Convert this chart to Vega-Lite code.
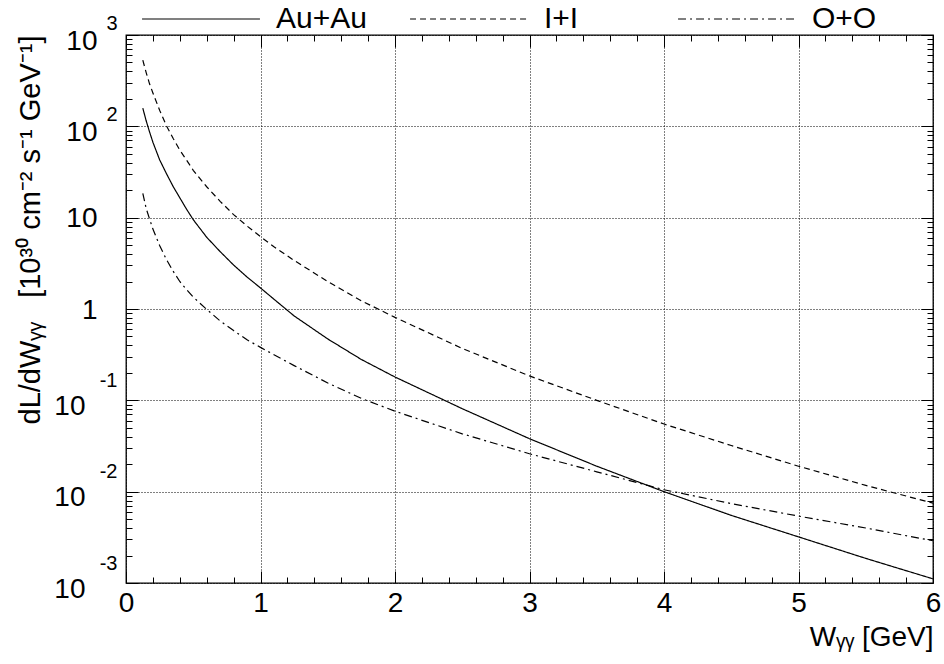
{
  "$schema": "https://vega.github.io/schema/vega-lite/v6.json",
  "width": 807,
  "height": 548,
  "autosize": {"type": "none"},
  "padding": {"left": 126, "top": 35, "right": 11, "bottom": 81},
  "background": "white",
  "config": {
    "view": {"stroke": "black", "strokeWidth": 1.3},
    "font": "Liberation Sans, Arial, sans-serif",
    "axis": {
      "labelFont": "Liberation Sans, Arial, sans-serif",
      "titleFont": "Liberation Sans, Arial, sans-serif",
      "labelColor": "black",
      "titleColor": "black",
      "titleFontWeight": "normal",
      "labelFontSize": 28,
      "titleFontSize": 28,
      "domain": false,
      "tickColor": "black",
      "tickWidth": 1
    },
    "legend": {
      "labelFont": "Liberation Sans, Arial, sans-serif",
      "labelColor": "black"
    }
  },
  "data": {
    "values": [
      {"series": "Au+Au", "W": 0.125, "L": 158},
      {"series": "Au+Au", "W": 0.15, "L": 115},
      {"series": "Au+Au", "W": 0.175, "L": 87},
      {"series": "Au+Au", "W": 0.2, "L": 67},
      {"series": "Au+Au", "W": 0.25, "L": 43},
      {"series": "Au+Au", "W": 0.3, "L": 30.5},
      {"series": "Au+Au", "W": 0.35, "L": 22},
      {"series": "Au+Au", "W": 0.4, "L": 16.5},
      {"series": "Au+Au", "W": 0.45, "L": 12.4},
      {"series": "Au+Au", "W": 0.5, "L": 9.5},
      {"series": "Au+Au", "W": 0.6, "L": 6.1},
      {"series": "Au+Au", "W": 0.7, "L": 4.25},
      {"series": "Au+Au", "W": 0.8, "L": 3.03},
      {"series": "Au+Au", "W": 0.9, "L": 2.24},
      {"series": "Au+Au", "W": 1.0, "L": 1.7},
      {"series": "Au+Au", "W": 1.1, "L": 1.28},
      {"series": "Au+Au", "W": 1.25, "L": 0.84},
      {"series": "Au+Au", "W": 1.5, "L": 0.47},
      {"series": "Au+Au", "W": 1.75, "L": 0.28},
      {"series": "Au+Au", "W": 2.0, "L": 0.18},
      {"series": "Au+Au", "W": 2.5, "L": 0.081},
      {"series": "Au+Au", "W": 3.0, "L": 0.038},
      {"series": "Au+Au", "W": 3.5, "L": 0.019},
      {"series": "Au+Au", "W": 4.0, "L": 0.0100},
      {"series": "Au+Au", "W": 4.5, "L": 0.0055},
      {"series": "Au+Au", "W": 5.0, "L": 0.0032},
      {"series": "Au+Au", "W": 5.5, "L": 0.00186},
      {"series": "Au+Au", "W": 6.0, "L": 0.00111},
      {"series": "I+I", "W": 0.125, "L": 530},
      {"series": "I+I", "W": 0.15, "L": 388},
      {"series": "I+I", "W": 0.175, "L": 292},
      {"series": "I+I", "W": 0.2, "L": 232},
      {"series": "I+I", "W": 0.25, "L": 150},
      {"series": "I+I", "W": 0.3, "L": 102},
      {"series": "I+I", "W": 0.35, "L": 74},
      {"series": "I+I", "W": 0.4, "L": 55},
      {"series": "I+I", "W": 0.45, "L": 42.7},
      {"series": "I+I", "W": 0.5, "L": 33},
      {"series": "I+I", "W": 0.6, "L": 21.8},
      {"series": "I+I", "W": 0.7, "L": 15.1},
      {"series": "I+I", "W": 0.8, "L": 10.8},
      {"series": "I+I", "W": 0.9, "L": 8.1},
      {"series": "I+I", "W": 1.0, "L": 6.2},
      {"series": "I+I", "W": 1.1, "L": 4.8},
      {"series": "I+I", "W": 1.25, "L": 3.4},
      {"series": "I+I", "W": 1.5, "L": 2.0},
      {"series": "I+I", "W": 1.75, "L": 1.23},
      {"series": "I+I", "W": 2.0, "L": 0.81},
      {"series": "I+I", "W": 2.5, "L": 0.37},
      {"series": "I+I", "W": 3.0, "L": 0.185},
      {"series": "I+I", "W": 3.5, "L": 0.100},
      {"series": "I+I", "W": 4.0, "L": 0.055},
      {"series": "I+I", "W": 4.5, "L": 0.032},
      {"series": "I+I", "W": 5.0, "L": 0.019},
      {"series": "I+I", "W": 5.5, "L": 0.0117},
      {"series": "I+I", "W": 6.0, "L": 0.0075},
      {"series": "O+O", "W": 0.125, "L": 18.5},
      {"series": "O+O", "W": 0.15, "L": 12.6},
      {"series": "O+O", "W": 0.175, "L": 9.7},
      {"series": "O+O", "W": 0.2, "L": 7.5},
      {"series": "O+O", "W": 0.25, "L": 4.95},
      {"series": "O+O", "W": 0.3, "L": 3.5},
      {"series": "O+O", "W": 0.35, "L": 2.6},
      {"series": "O+O", "W": 0.4, "L": 2.0},
      {"series": "O+O", "W": 0.45, "L": 1.63},
      {"series": "O+O", "W": 0.5, "L": 1.35},
      {"series": "O+O", "W": 0.6, "L": 0.99},
      {"series": "O+O", "W": 0.7, "L": 0.74},
      {"series": "O+O", "W": 0.8, "L": 0.58},
      {"series": "O+O", "W": 0.9, "L": 0.46},
      {"series": "O+O", "W": 1.0, "L": 0.38},
      {"series": "O+O", "W": 1.1, "L": 0.316},
      {"series": "O+O", "W": 1.25, "L": 0.24},
      {"series": "O+O", "W": 1.5, "L": 0.155},
      {"series": "O+O", "W": 1.75, "L": 0.105},
      {"series": "O+O", "W": 2.0, "L": 0.076},
      {"series": "O+O", "W": 2.5, "L": 0.043},
      {"series": "O+O", "W": 3.0, "L": 0.026},
      {"series": "O+O", "W": 3.5, "L": 0.0165},
      {"series": "O+O", "W": 4.0, "L": 0.0105},
      {"series": "O+O", "W": 4.5, "L": 0.0074},
      {"series": "O+O", "W": 5.0, "L": 0.0054},
      {"series": "O+O", "W": 5.5, "L": 0.0040},
      {"series": "O+O", "W": 6.0, "L": 0.0029}
    ]
  },
  "layer": [
    {
      "mark": {"type": "line", "color": "black", "strokeWidth": 1.2, "clip": true},
      "encoding": {
        "x": {
          "field": "W", "type": "quantitative",
          "scale": {"domain": [0, 6], "nice": false, "zero": false},
          "axis": {
            "orient": "bottom",
            "values": [0, 1, 2, 3, 4, 5, 6],
            "format": "d",
            "ticks": false,
            "grid": true,
            "gridDash": [1, 2],
            "gridColor": "#000000",
            "gridWidth": 1,
            "labelFlush": false,
            "labelOverlap": false,
            "labelPadding": 6,
            "labelBaseline": "top",
            "title": "Wᵧᵧ [GeV]",
            "titleX": 807,
            "titleY": 62,
            "titleAlign": "right",
            "titleBaseline": "alphabetic"
          }
        },
        "y": {
          "field": "L", "type": "quantitative",
          "scale": {"type": "log", "domain": [0.001, 1000], "nice": false},
          "axis": {
            "orient": "left",
            "values": [0.001, 0.01, 0.1, 1, 10, 100, 1000],
            "ticks": false,
            "grid": true,
            "gridDash": [1, 2],
            "gridColor": "#000000",
            "gridWidth": 1,
            "labelOverlap": false,
            "labelExpr": "datum.value == 1 ? '1\u2009' : '10'",
            "labelPadding": {"condition": {"test": "datum.value < 0.5", "value": 41}, "value": 29},
            "labelOffset": {"condition": {"test": "datum.value == 1 || datum.value == 10", "value": 1}, "value": 6},
            "title": "dL/dWᵧᵧ \u00a0\u00a0[10³⁰ cm⁻² s⁻¹ GeV⁻¹]",
            "titleFontSize": 29,
            "titleX": -87,
            "titleY": 0,
            "titleAngle": 270,
            "titleAlign": "right",
            "titleBaseline": "alphabetic"
          }
        },
        "strokeDash": {
          "field": "series", "type": "nominal",
          "scale": {"domain": ["Au+Au", "I+I", "O+O"], "range": [[1, 0], [6, 4], [8, 4, 2, 4]]},
          "legend": {
            "orient": "none",
            "legendX": 15,
            "legendY": -76,
            "direction": "horizontal",
            "title": null,
            "symbolType": "stroke",
            "symbolSize": 13900,
            "symbolStrokeWidth": 1.2,
            "symbolStrokeColor": "black",
            "labelFontSize": 30,
            "labelOffset": 15,
            "columnPadding": 40,
            "gridAlign": "all"
          }
        }
      }
    },
    {
      "mark": {"type": "point", "opacity": 0},
      "encoding": {
        "x": {"field": "W", "type": "quantitative", "scale": {"domain": [0, 6], "nice": false, "zero": false}, "axis": null},
        "y": {
          "field": "L", "type": "quantitative",
          "scale": {"type": "log", "domain": [0.001, 1000], "nice": false},
          "axis": {
            "orient": "left",
            "values": [0.001, 0.01, 0.1, 100, 1000],
            "ticks": false, "grid": false, "domain": false,
            "labelOverlap": false,
            "labelExpr": "'' + round(log(datum.value) / LN10)",
            "labelFontSize": 20,
            "labelPadding": 9,
            "labelOffset": {"condition": {"test": "datum.value < 1", "value": -20}, "value": -12},
            "title": null
          }
        }
      }
    },
    {
      "mark": {"type": "point", "opacity": 0},
      "encoding": {
        "x": {
          "field": "W", "type": "quantitative", "scale": {"domain": [0, 6], "nice": false, "zero": false},
          "axis": {"orient": "bottom", "values": [0, 1, 2, 3, 4, 5, 6], "labels": false, "grid": false, "domain": false, "ticks": true, "tickSize": -12, "title": null}
        },
        "y": {
          "field": "L", "type": "quantitative", "scale": {"type": "log", "domain": [0.001, 1000], "nice": false},
          "axis": {"orient": "left", "values": [0.001, 0.01, 0.1, 1, 10, 100, 1000], "labels": false, "grid": false, "domain": false, "ticks": true, "tickSize": -12, "title": null}
        }
      }
    },
    {
      "mark": {"type": "point", "opacity": 0},
      "encoding": {
        "x": {
          "field": "W", "type": "quantitative", "scale": {"domain": [0, 6], "nice": false, "zero": false},
          "axis": {"orient": "top", "values": [0, 1, 2, 3, 4, 5, 6], "labels": false, "grid": false, "domain": false, "ticks": true, "tickSize": -12, "title": null}
        },
        "y": {
          "field": "L", "type": "quantitative", "scale": {"type": "log", "domain": [0.001, 1000], "nice": false},
          "axis": {"orient": "right", "values": [0.001, 0.01, 0.1, 1, 10, 100, 1000], "labels": false, "grid": false, "domain": false, "ticks": true, "tickSize": -12, "title": null}
        }
      }
    },
    {
      "mark": {"type": "point", "opacity": 0},
      "encoding": {
        "x": {
          "field": "W", "type": "quantitative", "scale": {"domain": [0, 6], "nice": false, "zero": false},
          "axis": {"orient": "bottom", "values": [0.2, 0.4, 0.6, 0.8, 1.2, 1.4, 1.6, 1.8, 2.2, 2.4, 2.6, 2.8, 3.2, 3.4, 3.6, 3.8, 4.2, 4.4, 4.6, 4.8, 5.2, 5.4, 5.6, 5.8], "labels": false, "grid": false, "domain": false, "ticks": true, "tickSize": -6, "title": null}
        },
        "y": {
          "field": "L", "type": "quantitative", "scale": {"type": "log", "domain": [0.001, 1000], "nice": false},
          "axis": {"orient": "left", "values": [0.002, 0.003, 0.004, 0.005, 0.006, 0.007, 0.008, 0.009, 0.02, 0.03, 0.04, 0.05, 0.06, 0.07, 0.08, 0.09, 0.2, 0.3, 0.4, 0.5, 0.6, 0.7, 0.8, 0.9, 2, 3, 4, 5, 6, 7, 8, 9, 20, 30, 40, 50, 60, 70, 80, 90, 200, 300, 400, 500, 600, 700, 800, 900], "labels": false, "grid": false, "domain": false, "ticks": true, "tickSize": -6, "title": null}
        }
      }
    },
    {
      "mark": {"type": "point", "opacity": 0},
      "encoding": {
        "x": {
          "field": "W", "type": "quantitative", "scale": {"domain": [0, 6], "nice": false, "zero": false},
          "axis": {"orient": "top", "values": [0.2, 0.4, 0.6, 0.8, 1.2, 1.4, 1.6, 1.8, 2.2, 2.4, 2.6, 2.8, 3.2, 3.4, 3.6, 3.8, 4.2, 4.4, 4.6, 4.8, 5.2, 5.4, 5.6, 5.8], "labels": false, "grid": false, "domain": false, "ticks": true, "tickSize": -6, "title": null}
        },
        "y": {
          "field": "L", "type": "quantitative", "scale": {"type": "log", "domain": [0.001, 1000], "nice": false},
          "axis": {"orient": "right", "values": [0.002, 0.003, 0.004, 0.005, 0.006, 0.007, 0.008, 0.009, 0.02, 0.03, 0.04, 0.05, 0.06, 0.07, 0.08, 0.09, 0.2, 0.3, 0.4, 0.5, 0.6, 0.7, 0.8, 0.9, 2, 3, 4, 5, 6, 7, 8, 9, 20, 30, 40, 50, 60, 70, 80, 90, 200, 300, 400, 500, 600, 700, 800, 900], "labels": false, "grid": false, "domain": false, "ticks": true, "tickSize": -6, "title": null}
        }
      }
    }
  ],
  "resolve": {"axis": {"x": "independent", "y": "independent"}}
}
